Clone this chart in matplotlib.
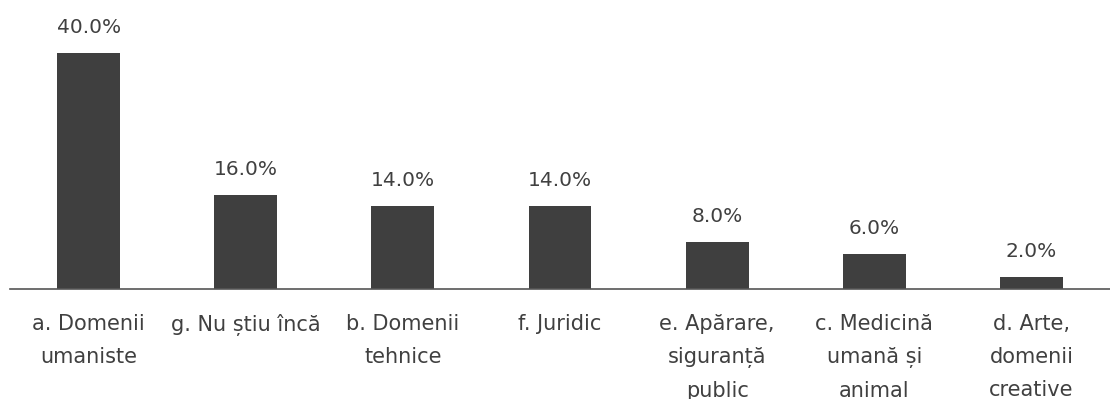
import matplotlib
matplotlib.use("Agg")
import matplotlib.pyplot as plt

categories = ["a. Domenii\numaniste", "g. Nu știu încă", "b. Domenii\ntehnice", "f. Juridic",
              "e. Apărare,\nsiguranță\npublic", "c. Medicină\numană și\nanimal", "d. Arte,\ndomenii\ncreative"]
values = [40.0, 16.0, 14.0, 14.0, 8.0, 6.0, 2.0]
labels = [f"{v:.1f}%" for v in values]

plt.rcParams['font.family'] = ['DejaVu Sans']

fig = plt.figure(figsize=(11.10, 3.99), dpi=100)
ax = fig.add_axes([10/1110, 110/399, 1100/1110, 289/399])
x = list(range(len(values)))
bars = ax.bar(x, values, width=0.4, color="#3f3f3f")
ax.set_xlim(-0.5, len(values) - 0.5)
ax.set_ylim(0, 289/5.9)
for xi, v, lab in zip(x, values, labels):
    ax.text(xi, v + 2.7, lab, ha="center", va="bottom", fontsize=14.5, color="#404040")
ax.set_xticks(x)
ax.set_xticklabels(categories, fontsize=15, color="#404040", linespacing=1.8, va="top")
ax.tick_params(axis="x", length=0, pad=18)
ax.set_yticks([])
for s in ["top", "right", "left"]:
    ax.spines[s].set_visible(False)
ax.spines["bottom"].set_color("#555555")
ax.spines["bottom"].set_linewidth(1.2)
fig.savefig("out.png", dpi=100)
